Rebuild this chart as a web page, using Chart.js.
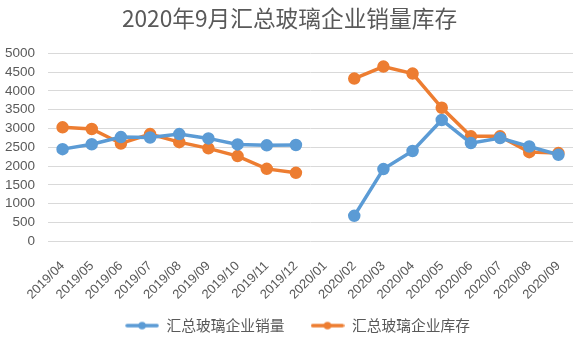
<!DOCTYPE html>
<html><head><meta charset="utf-8">
<script src="https://cdn.jsdelivr.net/npm/chart.js@4/dist/chart.umd.min.js"></script>
<style>html,body{margin:0;padding:0;background:#fff}#wrap{width:581px;height:343px;position:relative}</style>
</head><body><div id="wrap"><canvas id="c" width="581" height="343"></canvas></div>
<script>
const categories = ["2019/04","2019/05","2019/06","2019/07","2019/08","2019/09","2019/10","2019/11","2019/12","2020/01","2020/02","2020/03","2020/04","2020/05","2020/06","2020/07","2020/08","2020/09"];
const sales = [2450,2580,2770,2760,2850,2735,2575,2550,2560,null,675,1920,2400,3225,2610,2745,2520,2300];
const inventory = [3030,2985,2600,2850,2635,2470,2265,1925,1820,null,4325,4645,4460,3550,2790,2790,2370,2345];
const seriesNames = ["汇总玻璃企业销量","汇总玻璃企业库存"];
const titleText = "2020年9月汇总玻璃企业销量库存";
const colors = ['#5B9BD5','#ED7D31'];

function legendIcon(color){
  const c=document.createElement('canvas');c.width=34;c.height=10;
  const g=c.getContext('2d');g.strokeStyle=color;g.lineWidth=3.5;g.lineCap='round';
  g.beginPath();g.moveTo(2,5);g.lineTo(32,5);g.stroke();
  g.fillStyle=color;g.beginPath();g.arc(17,5,3.8,0,Math.PI*2);g.fill();
  return c;
}
const icons = colors.map(legendIcon);
const cjk = "'Noto Sans CJK SC',sans-serif";
const latin = "'Liberation Sans','Noto Sans CJK SC',sans-serif";
Chart.defaults.font.family = cjk;
Chart.defaults.color = '#595959';
const tweak = {id:'tweak',afterLayout(chart){const l=chart.legend; l.left+=8; l.right+=8; chart.scales.x.bottom = chart.height;}};
new Chart(document.getElementById('c'),{
  type:'line',
  data:{labels:categories,datasets:[
    {label:seriesNames[0],data:sales,borderColor:colors[0],backgroundColor:colors[0],borderWidth:3.5,pointRadius:4.5,pointHoverRadius:4.5,spanGaps:false,tension:0},
    {label:seriesNames[1],data:inventory,borderColor:colors[1],backgroundColor:colors[1],borderWidth:3.5,pointRadius:4.5,pointHoverRadius:4.5,spanGaps:false,tension:0}
  ]},
  plugins:[tweak],
  options:{
    responsive:false,animation:false,
    layout:{padding:{left:4,right:6,top:3,bottom:0}},
    plugins:{
      title:{display:true,text:titleText,font:{size:22.7,weight:'normal',family:cjk},color:'#595959',padding:{top:2,bottom:21}},
      legend:{position:'bottom',labels:{usePointStyle:true,pointStyleWidth:34,font:{size:14.75,family:cjk},color:'#595959',padding:26,
        generateLabels(chart){const items=Chart.defaults.plugins.legend.labels.generateLabels(chart);items.forEach((it,i)=>{it.pointStyle=icons[i];});return items;}}},
      tooltip:{enabled:false}
    },
    scales:{
      x:{offset:true,grid:{display:false},border:{display:false},afterFit(s){s.height=51;s.paddingLeft=0;s.paddingRight=0;},
         ticks:{maxRotation:45,minRotation:45,autoSkip:false,font:{size:13,family:latin},color:'#595959',padding:9}},
      y:{min:0,max:5000,afterFit(s){s.width=44;},ticks:{stepSize:500,autoSkip:false,font:{size:13.5,family:latin},color:'#595959',padding:13,callback:v=>String(v)},
         grid:{color:'#d9d9d9',drawTicks:false},border:{display:false}}
    }
  }
});
</script></body></html>
